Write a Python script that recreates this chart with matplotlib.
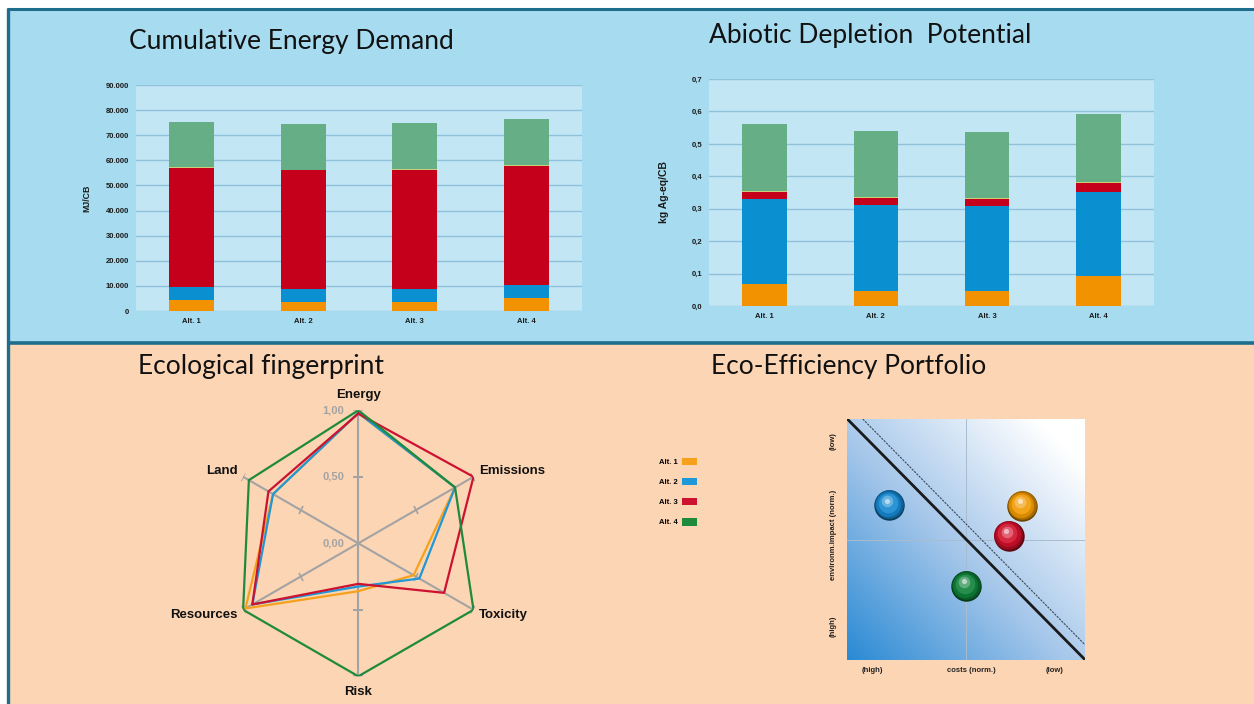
import matplotlib
matplotlib.use("Agg")
import matplotlib.pyplot as plt
import numpy as np
from matplotlib.patches import Rectangle, Patch
from matplotlib.colors import LinearSegmentedColormap
from matplotlib.markers import MarkerStyle
from matplotlib.transforms import Affine2D, offset_copy

plt.rcParams['font.family'] = ['Liberation Sans', 'DejaVu Sans']

W, H = 1254, 704

# ---- data ----
alternatives = ['Alt. 1', 'Alt. 2', 'Alt. 3', 'Alt. 4']

# Cumulative Energy Demand (MJ/CB), stacked segments bottom -> top
ced_orange = [4300, 3500, 3500, 5000]
ced_blue = [5300, 5100, 5100, 5500]
ced_red = [47300, 47400, 47500, 47400]
ced_thin = [300, 300, 300, 300]
ced_green = [18200, 18300, 18300, 18400]

# Abiotic Depletion Potential (kg Ag-eq/CB)
adp_orange = [0.067, 0.047, 0.046, 0.091]
adp_blue = [0.264, 0.265, 0.263, 0.262]
adp_red = [0.020, 0.021, 0.021, 0.026]
adp_thin = [0.003, 0.003, 0.003, 0.003]
adp_green = [0.206, 0.203, 0.205, 0.209]

# Ecological fingerprint (normalised)
radar_axes = ['Energy', 'Emissions', 'Toxicity', 'Risk', 'Resources', 'Land']
fp_alt1 = [0.98, 0.84, 0.48, 0.36, 0.98, 0.74]
fp_alt2 = [0.98, 0.84, 0.53, 0.325, 0.92, 0.74]
fp_alt3 = [0.975, 1.00, 0.745, 0.305, 0.92, 0.78]
fp_alt4 = [1.00, 0.84, 1.00, 1.00, 1.00, 0.95]

# Eco-efficiency portfolio (costs, impact) in normalised 0..1 axes
eco_cost = [0.734, 0.176, 0.678, 0.499]
eco_impact = [0.639, 0.642, 0.515, 0.307]

c_orange = '#f39200'
c_blue = '#0a8fd0'
c_red = '#c5001a'
c_green = '#66ae85'
c_thin = '#c9cf7a'
alt_colors = ['#f5a11c', '#1e98d6', '#cc1230', '#1e8a3c']
ball_colors = ['#f09a00', '#1588d0', '#d0102a', '#0e8038']


def px(x0, y0, x1, y1):
    return [x0 / W, 1 - y1 / H, (x1 - x0) / W, (y1 - y0) / H]


fig = plt.figure(figsize=(W / 100, H / 100), dpi=100)
fig.patch.set_facecolor('white')

# panel backgrounds and borders
fig.patches.append(Rectangle((8 / W, 1 - 342 / H), 1, 334 / H, transform=fig.transFigure,
                             facecolor='#a7dcf0', edgecolor='none', zorder=-10))
fig.patches.append(Rectangle((8 / W, 0), 1, 1 - 342 / H, transform=fig.transFigure,
                             facecolor='#fcd5b4', edgecolor='none', zorder=-10))
for (xa, ya, xb, yb, lw) in [(7, 9, W, 9, 2.2), (8, 8, 8, H, 2.4), (8, 342.5, W, 342.5, 2.6)]:
    fig.add_artist(plt.Line2D([xa / W, xb / W], [1 - ya / H, 1 - yb / H], color='#1f6d8c',
                              lw=lw, transform=fig.transFigure, solid_capstyle='butt'))

title_font = dict(family=['Lato', 'DejaVu Sans'], fontsize=19, color='#111111')
fig.text(129 / W, 1 - 49 / H, 'Cumulative Energy Demand', ha='left', va='baseline', **title_font)
fig.text(709 / W, 1 - 43 / H, 'Abiotic Depletion  Potential', ha='left', va='baseline', **title_font)
fig.text(138 / W, 1 - 374 / H, 'Ecological fingerprint', ha='left', va='baseline', **title_font)
fig.text(711 / W, 1 - 374 / H, 'Eco-Efficiency Portfolio', ha='left', va='baseline', **title_font)


def stacked(ax, segs, cols, ymax, step, fmt, ylabel, ylabel_size):
    x = np.arange(len(alternatives))
    bottom = np.zeros(len(alternatives))
    for vals, col in zip(segs, cols):
        ax.bar(x, vals, width=0.4, bottom=bottom, color=col, zorder=3)
        bottom += np.array(vals)
    ax.set_xlim(-0.5, 3.5)
    ax.set_ylim(0, ymax)
    ticks = np.arange(0, ymax + step / 2, step)
    ax.set_yticks(ticks)
    ax.set_yticklabels([fmt(t) for t in ticks])
    ax.set_xticks(x)
    ax.set_xticklabels(alternatives)
    ax.set_facecolor('#c3e6f5')
    ax.yaxis.grid(True, color='#8fc2da', lw=1.0, zorder=0)
    ax.set_axisbelow(True)
    for s in ax.spines.values():
        s.set_visible(False)
    ax.tick_params(length=0, labelsize=5.5, labelcolor='#1a1a1a', pad=5)
    for lab in ax.get_xticklabels() + ax.get_yticklabels():
        lab.set_fontweight('bold')
    ax.set_ylabel(ylabel, fontsize=ylabel_size, fontweight='bold', color='#1a1a1a')


ax1 = fig.add_axes(px(136, 85, 582, 311))
stacked(ax1, [ced_orange, ced_blue, ced_red, ced_thin, ced_green],
        [c_orange, c_blue, c_red, c_thin, c_green], 90000, 10000,
        lambda v: '0' if v == 0 else f'{v:,.0f}'.replace(',', '.'), 'MJ/CB', 6.3)
ax1.yaxis.labelpad = 10

ax2 = fig.add_axes(px(709, 79, 1154, 306))
stacked(ax2, [adp_orange, adp_blue, adp_red, adp_thin, adp_green],
        [c_orange, c_blue, c_red, c_thin, c_green], 0.7, 0.1,
        lambda v: f'{v:.1f}'.replace('.', ','), 'kg Ag-eq/CB', 7.5)
ax2.yaxis.labelpad = 16

# ---- radar ----
axr = fig.add_axes(px(225.3, 410.3, 491.3, 676.3), projection='polar')
axr.set_facecolor('none')
axr.set_theta_offset(np.pi / 2)
axr.set_theta_direction(-1)
axr.set_ylim(0, 1)
axr.grid(False)
axr.spines['polar'].set_visible(False)
axr.set_xticks([])
axr.set_yticks([])
ang = np.deg2rad(np.arange(0, 360, 60))
for a in ang:
    axr.plot([a, a], [0, 1], color='#a3a3a3', lw=1.5, zorder=1)
    disp = 90 - np.rad2deg(a)
    for r in (0.5, 1.0):
        axr.plot([a], [r], marker=MarkerStyle('_', transform=Affine2D().rotate_deg(disp + 90)),
                 ms=7, mew=1.2, color='#a3a3a3', zorder=1)
closed = np.append(ang, ang[0])
for vals, col in zip([fp_alt1, fp_alt2, fp_alt3, fp_alt4], alt_colors):
    axr.plot(closed, np.append(vals, vals[0]), color=col, lw=1.6, zorder=2)
for r, lab in [(1.0, '1,00'), (0.5, '0,50'), (0.0, '0,00')]:
    axr.annotate(lab, (0, r), xytext=(-10, 0), textcoords='offset points', ha='right',
                 va='center', fontsize=8, fontweight='bold', color='#a3a3a3')
lab_off = {'Energy': (0, 11, 'center'), 'Emissions': (4, 4, 'left'), 'Toxicity': (4, -4, 'left'),
           'Risk': (0, -11, 'center'), 'Resources': (-4, -4, 'right'), 'Land': (-4, 4, 'right')}
for a, name in zip(ang, radar_axes):
    dx, dy, ha = lab_off[name]
    axr.annotate(name, (a, 1.0), xytext=(dx, dy), textcoords='offset points', ha=ha,
                 va='center', fontsize=9.5, fontweight='bold', color='#111111')

# ---- legend ----
handles = [Patch(facecolor=c, edgecolor='none') for c in alt_colors]
fig.legend(handles, alternatives, loc='upper left', bbox_to_anchor=(652 / W, 1 - 451 / H),
           markerfirst=False, frameon=False, prop=dict(size=5.5, weight='bold'),
           handlelength=2.0, handleheight=1.1, labelspacing=1.55, handletextpad=0.6)

# ---- portfolio ----
axp = fig.add_axes(px(847.3, 419, 1085.3, 660))
gx, gy = np.meshgrid(np.linspace(0, 1, 200), np.linspace(0, 1, 200))
cmap = LinearSegmentedColormap.from_list('pf', ['#2a8ad4', '#a4c6ea', '#ffffff'])
axp.imshow(np.clip((gx + gy) / 1.8, 0, 1), extent=[0, 1, 0, 1], origin='lower', cmap=cmap,
           vmin=0, vmax=1, aspect='auto', zorder=0)
axp.set_xlim(0, 1)
axp.set_ylim(0, 1)
axp.axvline(0.5, color='#a9bccf', lw=0.7, zorder=1)
axp.axhline(0.5, color='#a9bccf', lw=0.7, zorder=1)
axp.plot([0, 1], [1, 0], color='#1a1a1a', lw=2.0, zorder=2)
axp.plot([0.065, 1], [1, 0.062], color='#3a4a5a', lw=0.8, ls=(0, (2, 1)), zorder=2)
for xv, yv, col in zip(eco_cost, eco_impact, ball_colors):
    base = np.array(matplotlib.colors.to_rgb(col))
    axp.scatter([xv], [yv], s=480, color=base * 0.45, zorder=3, linewidths=0)
    layers = [(430, 0.0, 0.6, 0.6), (330, 0.0, 0.9, 1.0), (200, 0.1, 1.0, 1.8),
              (70, 0.35, 1.0, 2.8), (14, 0.7, 1.0, 3.4)]
    for k, (sz, mix, bright, off) in enumerate(layers):
        cc = np.clip(base * bright * (1 - mix) + mix, 0, 1)
        if k == 0:
            cc = base * 0.7
        tr = offset_copy(axp.transData, fig=fig, x=-off * 0.5, y=off, units='points')
        axp.scatter([xv], [yv], s=sz, color=cc, zorder=4 + k, linewidths=0, transform=tr)
for s in axp.spines.values():
    s.set_visible(False)
axp.set_xticks([])
axp.set_yticks([])
small = dict(fontsize=5.5, fontweight='bold', color='#222222')
for xv, t in [(0.105, '(high)'), (0.52, 'costs (norm.)'), (0.87, '(low)')]:
    axp.text(xv, -0.045, t, transform=axp.transAxes, ha='center', va='center', **small)
for yv, t in [(0.91, '(low)'), (0.52, 'environm.impact (norm.)'), (0.14, '(high)')]:
    axp.text(-0.06, yv, t, transform=axp.transAxes, ha='center', va='center', rotation=90, **small)

fig.savefig('out.png', dpi=100)
